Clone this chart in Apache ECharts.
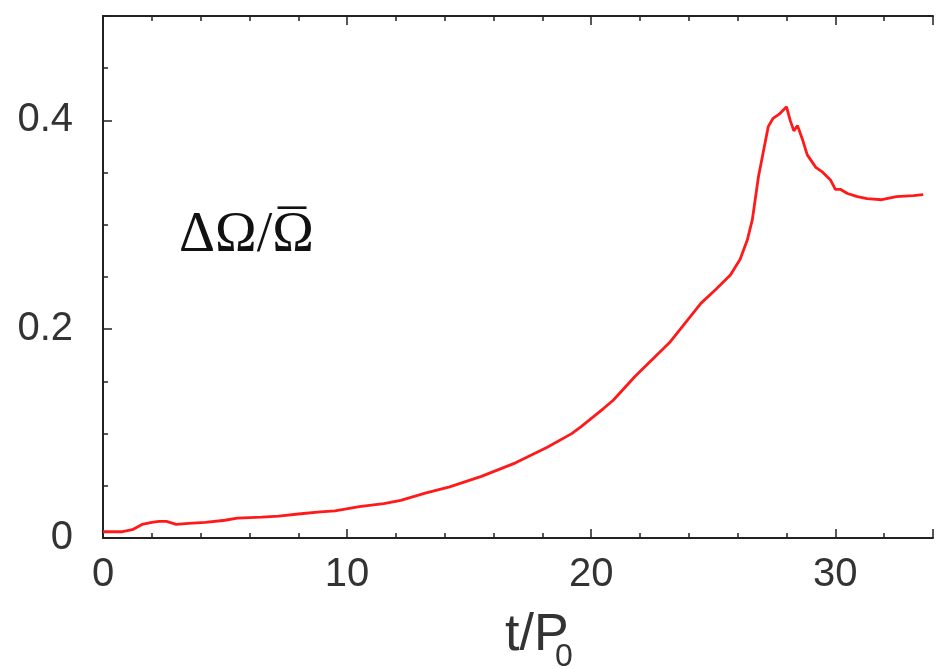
<!DOCTYPE html>
<html>
<head>
<meta charset="utf-8">
<script src="https://cdn.jsdelivr.net/npm/echarts@6/dist/echarts.min.js"></script>
<style>
html,body{margin:0;padding:0;background:#fff;}
#chart{width:936px;height:669px;}
</style>
</head>
<body>
<div id="chart"></div>
<script>
// t / P0 values
const tValues = [0, 0.8, 1.2, 1.6, 2.0, 2.3, 2.6, 3.0, 3.5, 4.2, 5.0, 5.5, 6.5, 7.2, 8.0, 8.9, 9.5,
  10.5, 11.5, 12.2, 13.2, 14.2, 15.5, 16.9, 18.2, 19.2, 19.6, 20.5, 20.9, 21.8, 23.2, 24.5, 25.1,
  25.7, 26.1, 26.4, 26.6, 26.85, 27.25, 27.45, 27.7, 28.0, 28.15, 28.3, 28.45, 28.65, 28.85, 29.2,
  29.45, 29.8, 30.0, 30.2, 30.5, 30.9, 31.3, 31.9, 32.3, 32.5, 33.2, 33.6];
// Delta Omega / mean Omega
const dOmegaValues = [0.006, 0.006, 0.008, 0.013, 0.015, 0.016, 0.016, 0.013, 0.014, 0.015, 0.017, 0.019, 0.020, 0.021, 0.023, 0.025, 0.026,
  0.030, 0.033, 0.036, 0.043, 0.049, 0.059, 0.072, 0.087, 0.100, 0.107, 0.124, 0.132, 0.155, 0.187, 0.225, 0.238,
  0.252, 0.267, 0.286, 0.305, 0.346, 0.394, 0.402, 0.406, 0.413, 0.400, 0.390, 0.395, 0.382, 0.367, 0.355,
  0.351, 0.343, 0.334, 0.334, 0.330, 0.327, 0.325, 0.324, 0.326, 0.327, 0.328, 0.329];
const xTickLabels = ['0', '10', '20', '30'];
const yTickLabels = ['0', '0.2', '0.4'];
const yAxisText = 'ΔΩ/Ω';
const yAxisBar = '¯';
const xAxisText = 't/P';
const xAxisSub = '0';

const seriesData = tValues.map((t, i) => [t, dOmegaValues[i]]);

const chart = echarts.init(document.getElementById('chart'), null, {renderer: 'canvas'});
const labelFont = {fontFamily: 'Liberation Sans, Arial, sans-serif', fontSize: 40, color: '#333'};
const axisLineStyle = {color: '#222', width: 2};

chart.setOption({
  animation: false,
  backgroundColor: '#fff',
  grid: {left: 103, top: 16, right: -13, bottom: 131, containLabel: false},
  xAxis: [{
    type: 'value', min: 0, max: 34, interval: 10, position: 'bottom',
    axisLine: {show: true, onZero: false, lineStyle: axisLineStyle},
    axisTick: {show: true, inside: true, length: 9, lineStyle: {color: '#222', width: 1.5}},
    minorTick: {show: true, splitNumber: 5, length: 5, lineStyle: {color: '#222', width: 1.5}},
    splitLine: {show: false},
    axisLabel: Object.assign({margin: 17, formatter: v => xTickLabels.includes(String(v)) ? String(v) : ''}, labelFont)
  }, {
    type: 'value', min: 0, max: 34, interval: 10, position: 'top',
    axisLine: {show: true, onZero: false, lineStyle: axisLineStyle},
    axisTick: {show: true, inside: true, length: 9, lineStyle: {color: '#222', width: 1.5}},
    minorTick: {show: true, splitNumber: 5, length: 5, lineStyle: {color: '#222', width: 1.5}},
    splitLine: {show: false},
    axisLabel: {show: false}
  }],
  yAxis: [{
    type: 'value', min: 0, max: 0.5, interval: 0.2,
    axisLine: {show: true, onZero: false, lineStyle: axisLineStyle},
    axisTick: {show: true, inside: true, length: 9, lineStyle: {color: '#222', width: 1.5}},
    minorTick: {show: true, splitNumber: 4, length: 5, lineStyle: {color: '#222', width: 1.5}},
    splitLine: {show: false},
    axisLabel: Object.assign({margin: 30, formatter: v => {
      const s = String(Math.round(v * 10) / 10);
      return yTickLabels.includes(s) ? s : '';
    }}, labelFont)
  }],
  series: [{
    type: 'line',
    xAxisIndex: 0,
    yAxisIndex: 0,
    data: seriesData,
    showSymbol: false,
    symbol: 'none',
    lineStyle: {color: '#ff1a1a', width: 2.8},
    clip: true
  }],
  graphic: [
    {type: 'text', left: 179, top: 208,
      style: {text: yAxisText, font: '56px "Liberation Serif", "DejaVu Serif", serif', fill: '#111'}},
    {type: 'text', x: 278, y: 207,
      style: {text: yAxisBar, font: '56px "Liberation Serif", "DejaVu Serif", serif', fill: '#111'}},
    {type: 'text', left: 505, top: 610,
      style: {text: xAxisText, font: '52px "Liberation Sans", Arial, sans-serif', fill: '#333'}},
    {type: 'text', left: 555, top: 641,
      style: {text: xAxisSub, font: '32px "Liberation Sans", Arial, sans-serif', fill: '#333'}}
  ]
});
</script>
</body>
</html>
